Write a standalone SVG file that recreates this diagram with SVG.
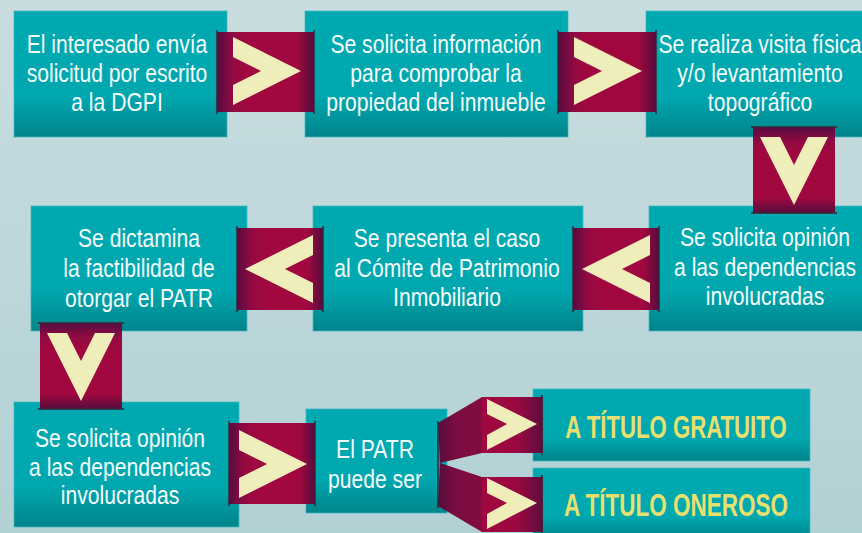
<svg xmlns="http://www.w3.org/2000/svg" width="862" height="533" viewBox="0 0 862 533">
<defs>
<linearGradient id="bg" x1="0" y1="0" x2="0" y2="1">
<stop offset="0" stop-color="#c9dde0"/><stop offset="1" stop-color="#b2d1d5"/>
</linearGradient>
<linearGradient id="teal" x1="0" y1="0" x2="0" y2="1">
<stop offset="0" stop-color="#00a9b1"/><stop offset="0.68" stop-color="#00a7ae"/><stop offset="1" stop-color="#00848b"/>
</linearGradient>
<linearGradient id="burH" x1="0" y1="0" x2="1" y2="0">
<stop offset="0" stop-color="#560c3e"/><stop offset="0.17" stop-color="#920a42"/><stop offset="0.3" stop-color="#a0083f"/><stop offset="0.82" stop-color="#a0083f"/><stop offset="1" stop-color="#560c3e"/>
</linearGradient>
<linearGradient id="burV" x1="0" y1="0" x2="0" y2="1">
<stop offset="0" stop-color="#560c3e"/><stop offset="0.17" stop-color="#920a42"/><stop offset="0.3" stop-color="#a0083f"/><stop offset="0.82" stop-color="#a0083f"/><stop offset="1" stop-color="#560c3e"/>
</linearGradient>
<linearGradient id="burR" x1="0" y1="0" x2="1" y2="0">
<stop offset="0" stop-color="#a0083f"/><stop offset="0.6" stop-color="#9a0941"/><stop offset="1" stop-color="#5a0c3e"/>
</linearGradient>
<linearGradient id="burSkew" x1="0" y1="0" x2="1" y2="0">
<stop offset="0" stop-color="#560c3e"/><stop offset="0.4" stop-color="#7a0c40"/><stop offset="1" stop-color="#820b41"/>
</linearGradient>
<path id="chev" d="M0,0 L68,34 L0,68 L0,48 L28,34 L0,20 Z"/>
<path id="chevS" d="M0,0 L50,25 L0,51 L0,36 L20,25 L0,15 Z"/>
</defs>
<style>
.box{fill:url(#teal);stroke:#3fb9bf;stroke-width:1;stroke-opacity:0.7}
.t{font-family:'Liberation Sans',Arial,sans-serif;font-size:25px;fill:#f4fbfb;text-anchor:middle}
.y{font-family:'Liberation Sans',Arial,sans-serif;font-size:31px;font-weight:bold;fill:#e8e06e;text-anchor:middle}
.ch{fill:#efedb9}
.post{stroke:#3a2436;stroke-width:1.5}
</style>
<rect width="862" height="533" fill="url(#bg)"/>

<g id="n1"><rect class="box" x="14" y="11" width="213" height="126"/>
<g transform="translate(117 0) scale(0.845 1)"><text class="t" x="0" y="53">El interesado envía</text><text class="t" x="0" y="82">solicitud por escrito</text><text class="t" x="0" y="111">a la DGPI</text></g></g>
<g id="n2"><rect class="box" x="305" y="11" width="263" height="126"/>
<g transform="translate(436 0) scale(0.845 1)"><text class="t" x="0" y="53">Se solicita información</text><text class="t" x="0" y="82">para comprobar la</text><text class="t" x="0" y="111">propiedad del inmueble</text></g></g>
<g id="n3"><rect class="box" x="646" y="11" width="230" height="126"/>
<g transform="translate(760 0) scale(0.845 1)"><text class="t" x="0" y="53">Se realiza visita física</text><text class="t" x="0" y="82">y/o levantamiento</text><text class="t" x="0" y="111">topográfico</text></g></g>
<g id="n4"><rect class="box" x="31" y="206" width="216" height="125"/>
<g transform="translate(139 0) scale(0.845 1)"><text class="t" x="0" y="247">Se dictamina</text><text class="t" x="0" y="277">la factibilidad de</text><text class="t" x="0" y="307">otorgar el PATR</text></g></g>
<g id="n5"><rect class="box" x="313" y="206" width="270" height="125"/>
<g transform="translate(447 0) scale(0.845 1)"><text class="t" x="0" y="247">Se presenta el caso</text><text class="t" x="0" y="277">al Cómite de Patrimonio</text><text class="t" x="0" y="306">Inmobiliario</text></g></g>
<g id="n6"><rect class="box" x="649" y="206" width="227" height="125"/>
<g transform="translate(765 0) scale(0.845 1)"><text class="t" x="0" y="246">Se solicita opinión</text><text class="t" x="0" y="276">a las dependencias</text><text class="t" x="0" y="305">involucradas</text></g></g>
<g id="n7"><rect class="box" x="14" y="402" width="225" height="125"/>
<g transform="translate(120 0) scale(0.845 1)"><text class="t" x="0" y="447">Se solicita opinión</text><text class="t" x="0" y="476">a las dependencias</text><text class="t" x="0" y="504">involucradas</text></g></g>
<g id="n8"><rect class="box" x="306" y="409" width="141" height="104"/>
<g transform="translate(375 0) scale(0.845 1)"><text class="t" x="0" y="458">El PATR</text><text class="t" x="0" y="488">puede ser</text></g></g>
<g id="n9"><rect class="box" x="533" y="389" width="277" height="72"/>
<g transform="translate(676 0) scale(0.716 1)"><text class="y" x="0" y="438">A TÍTULO GRATUITO</text></g></g>
<g id="n10"><rect class="box" x="533" y="468" width="277" height="72"/>
<g transform="translate(676 0) scale(0.726 1)"><text class="y" x="0" y="516">A TÍTULO ONEROSO</text></g></g>

<g id="connectors">
<rect x="217" y="32" width="97" height="80" fill="url(#burH)"/>
<line class="post" x1="217" y1="30" x2="217" y2="114"/><line class="post" x1="314" y1="30" x2="314" y2="114"/>
<use href="#chev" class="ch" x="233" y="37"/>
<rect x="558" y="32" width="98" height="80" fill="url(#burH)"/>
<line class="post" x1="558" y1="30" x2="558" y2="114"/><line class="post" x1="656" y1="30" x2="656" y2="114"/>
<use href="#chev" class="ch" x="574" y="37"/>
<rect x="753" y="127" width="82" height="86" fill="url(#burV)"/>
<line class="post" x1="751" y1="127" x2="837" y2="127"/><line class="post" x1="751" y1="213" x2="837" y2="213"/>
<use href="#chev" class="ch" transform="translate(828,137) rotate(90)"/>
<rect x="573" y="228" width="86" height="82" fill="url(#burH)"/>
<line class="post" x1="573" y1="226" x2="573" y2="312"/><line class="post" x1="659" y1="226" x2="659" y2="312"/>
<use href="#chev" class="ch" transform="translate(650,303) rotate(180)"/>
<rect x="237" y="228" width="86" height="82" fill="url(#burH)"/>
<line class="post" x1="237" y1="226" x2="237" y2="312"/><line class="post" x1="323" y1="226" x2="323" y2="312"/>
<use href="#chev" class="ch" transform="translate(313,303) rotate(180)"/>
<rect x="40" y="323" width="82" height="86" fill="url(#burV)"/>
<line class="post" x1="38" y1="323" x2="124" y2="323"/><line class="post" x1="38" y1="409" x2="124" y2="409"/>
<use href="#chev" class="ch" transform="translate(115,333) rotate(90)"/>
<rect x="229" y="423" width="86" height="81" fill="url(#burH)"/>
<line class="post" x1="229" y1="421" x2="229" y2="506"/><line class="post" x1="315" y1="421" x2="315" y2="506"/>
<use href="#chev" class="ch" x="239" y="430"/>
<polygon points="438,423 482,397 482,453 440,463" fill="url(#burSkew)"/>
<polygon points="440,463 482,477 482,532 438,506" fill="url(#burSkew)"/>
<rect x="482" y="397" width="61" height="56" fill="url(#burR)"/>
<rect x="482" y="477" width="61" height="55" fill="url(#burR)"/>
<line class="post" x1="438" y1="421" x2="438" y2="508"/>
<line class="post" x1="542" y1="395" x2="542" y2="455"/><line class="post" x1="542" y1="475" x2="542" y2="533"/>
<use href="#chevS" class="ch" x="487" y="399"/>
<use href="#chevS" class="ch" x="487" y="478"/>
</g>
</svg>
